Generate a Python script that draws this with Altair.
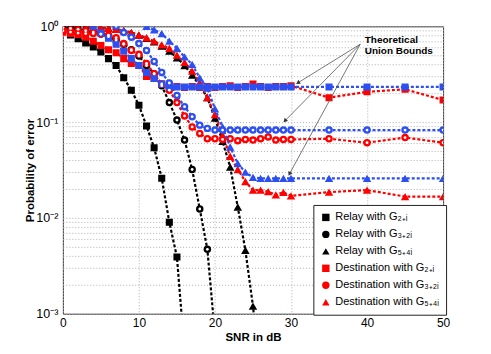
import math
import altair as alt
import pandas as pd

# ---------------- data ----------------
dest_snr = list(range(0, 31)) + [35, 40, 45, 50]

relay_g2_snr = list(range(0, 17))
relay_g2 = [0.93, 0.81, 0.74, 0.67, 0.61, 0.54, 0.46, 0.39, 0.29, 0.215, 0.15,
            0.091, 0.054, 0.026, 0.009, 0.0039, 0.0004]

relay_g3_snr = list(range(0, 21))
relay_g3 = [0.97, 0.95, 0.93, 0.90, 0.87, 0.83, 0.78, 0.72, 0.65, 0.57, 0.49,
            0.39, 0.32, 0.24, 0.16, 0.105, 0.065, 0.032, 0.0124, 0.0047, 0.0006]

relay_g5_snr = list(range(0, 27))
relay_g5 = [0.99, 0.99, 0.98, 0.98, 0.97, 0.96, 0.95, 0.93, 0.90, 0.86, 0.81,
            0.75, 0.69, 0.62, 0.55, 0.47, 0.39, 0.31, 0.24, 0.18, 0.11,
            0.063, 0.034, 0.013, 0.0046, 0.0012, 0.0002]

dest_g2 = [0.87, 0.84, 0.82, 0.77, 0.70, 0.63, 0.57, 0.53, 0.46, 0.41, 0.39,
           0.30, 0.285, 0.25, 0.235, 0.235, 0.23, 0.235, 0.23, 0.235, 0.23,
           0.235, 0.24, 0.23, 0.235, 0.25, 0.235, 0.23, 0.235, 0.235, 0.24,
           0.18, 0.207, 0.22, 0.17]
dest_g3 = [0.90, 0.87, 0.85, 0.84, 0.84, 0.83, 0.81, 0.76, 0.66, 0.56, 0.51,
           0.41, 0.32, 0.25, 0.215, 0.16, 0.116, 0.089, 0.076, 0.067, 0.067,
           0.066, 0.067, 0.064, 0.066, 0.065, 0.067, 0.070, 0.065, 0.066, 0.066,
           0.067, 0.061, 0.069, 0.061]
dest_g5 = [0.99, 0.98, 0.98, 0.97, 0.97, 0.96, 0.95, 0.93, 0.90, 0.86, 0.81,
           0.76, 0.70, 0.64, 0.59, 0.50, 0.42, 0.34, 0.26, 0.18, 0.12,
           0.073, 0.044, 0.032, 0.024, 0.0195, 0.0195, 0.0188, 0.0174, 0.0185, 0.017,
           0.0186, 0.0195, 0.0167, 0.0167]

bound_g2_snr = list(range(4, 31)) + [35, 40, 45, 50]
bound_g2 = [1.0, 0.85, 0.75, 0.65, 0.55, 0.46, 0.39, 0.33, 0.285, 0.25] + [0.233] * 21
bound_g3_snr = list(range(7, 31)) + [35, 40, 45, 50]
bound_g3 = [1.0, 0.86, 0.77, 0.66, 0.56, 0.43, 0.33, 0.256, 0.19, 0.145, 0.114,
            0.093, 0.086] + [0.0826] * 15
bound_g5_snr = list(range(11, 31)) + [35, 40, 45, 50]
bound_g5 = [1.0, 0.92, 0.84, 0.70, 0.59, 0.48, 0.40, 0.29, 0.226, 0.138, 0.089,
            0.055, 0.037, 0.030, 0.0265] + [0.0259] * 9

legend_names = ["Relay with G₂₊ᵢ", "Relay with G₃₊₂ᵢ", "Relay with G₅₊₄ᵢ",
                "Destination with G₂₊ᵢ", "Destination with G₃₊₂ᵢ", "Destination with G₅₊₄ᵢ"]
legend_colors = ["#000000", "#000000", "#000000", "#ff0000", "#ff0000", "#ff0000"]
legend_shapes = ["square", "circle", "triangle-up", "square", "circle", "triangle-up"]

annot_text = "Theoretical\nUnion Bounds"
annot_x, annot_y = 39.7, 0.67
arrow_start = (39.1, 0.65)
arrow_ends_x = [30.9, 29.2, 29.8]
arrow_ends_y = [0.257, 0.103, 0.0288]

# ---------------- frames ----------------
sizes = {"square": 50, "circle": 56, "triangle-up": 72}
rows = []
series = [(relay_g2_snr, relay_g2), (relay_g3_snr, relay_g3), (relay_g5_snr, relay_g5),
          (dest_snr, dest_g2), (dest_snr, dest_g3), (dest_snr, dest_g5)]
for i, (xs, ys) in enumerate(series):
    for x, y in zip(xs, ys):
        rows.append(dict(series=legend_names[i], snr=x, p=y, col=legend_colors[i],
                         shape=legend_shapes[i], msize=sizes[legend_shapes[i]], order=i))
df = pd.DataFrame(rows)

brows = []
for name, shp, xs, ys in [("b2", "square", bound_g2_snr, bound_g2),
                          ("b3", "circle", bound_g3_snr, bound_g3),
                          ("b5", "triangle-up", bound_g5_snr, bound_g5)]:
    for x, y in zip(xs, ys):
        brows.append(dict(series=name, snr=x, p=y, shape=shp, msize=sizes[shp]))
bdf = pd.DataFrame(brows)

# arrows
PXX, PXY = 7.62, 96.0
arows = []
for ex, ey in zip(arrow_ends_x, arrow_ends_y):
    dx = (ex - arrow_start[0]) * PXX
    dy = -(math.log10(ey) - math.log10(arrow_start[1])) * PXY
    ang = math.degrees(math.atan2(dx, -dy)) % 360
    arows.append(dict(x1=arrow_start[0], y1=arrow_start[1], x2=ex, y2=ey, ang=ang))
adf = pd.DataFrame(arows)

# ---------------- scales / axes ----------------
FONT = "Liberation Sans"
ymin, ymax = 0.001, 1.0
yvals = []
for e in [-3, -2, -1]:
    for m in range(1, 10):
        yvals.append(round(m * 10 ** e, 6))
yvals.append(1.0)
label_expr = ("datum.value >= 0.99 ? '10⁰' : (datum.value > 0.099 && datum.value < 0.101) ? '10⁻¹' : "
              "(datum.value > 0.0099 && datum.value < 0.0101) ? '10⁻²' : "
              "(datum.value > 0.00099 && datum.value < 0.00101) ? '10⁻³' : ''")

xscale = alt.Scale(domain=[0, 50], nice=False)
yscale = alt.Scale(type="log", domain=[ymin, ymax], nice=False)

xaxis = alt.Axis(values=[0, 10, 20, 30, 40, 50], grid=True, gridDash=[1, 2],
                 gridColor="#b0b0b0", ticks=False, domain=False, labelFont=FONT,
                 labelFontSize=12, labelColor="#000", labelPadding=4, labelFlush=False,
                 title="SNR in dB", titleFont=FONT, titleFontSize=11.5,
                 titleFontWeight="bold", titleColor="#000", titlePadding=3)
yaxis = alt.Axis(values=yvals, labelExpr=label_expr, grid=True, gridDash=[1, 2],
                 gridColor="#b0b0b0", ticks=False, domain=False, labelFont=FONT,
                 labelFontSize=12.5, labelColor="#000", labelPadding=5, labelOverlap=False,
                 labelFlush=False, title="Probability of error", titleFont=FONT,
                 titleFontSize=11.5, titleFontWeight="bold", titleColor="#000",
                 titlePadding=0)

X = alt.X("snr:Q", scale=xscale, axis=xaxis)
Y = alt.Y("p:Q", scale=yscale, axis=yaxis)
Xn = alt.X("snr:Q", scale=xscale)
Yn = alt.Y("p:Q", scale=yscale)

DASH = [3, 2]

lines = alt.Chart(df).mark_line(strokeDash=DASH, strokeWidth=2.2, clip=True).encode(
    x=X, y=Y, color=alt.Color("col:N", scale=None), detail="series:N")

points = alt.Chart(df).mark_point(filled=True, opacity=1, clip=True, strokeWidth=1).encode(
    x=Xn, y=Yn,
    color=alt.Color("series:N", scale=alt.Scale(domain=legend_names, range=legend_colors),
                    legend=alt.Legend(title=None)),
    shape=alt.Shape("series:N", scale=alt.Scale(domain=legend_names, range=legend_shapes)),
    size=alt.Size("msize:Q", scale=None))

BLUE = "#2b4ff0"
blines = alt.Chart(bdf).mark_line(strokeDash=DASH, strokeWidth=2.2, clip=True, color=BLUE).encode(
    x=Xn, y=Yn, detail="series:N")
bpoints = alt.Chart(bdf).mark_point(filled=True, opacity=1, clip=True, color=BLUE).encode(
    x=Xn, y=Yn, shape=alt.Shape("shape:N", scale=None), size=alt.Size("msize:Q", scale=None))

circ = pd.concat([df[df["shape"] == "circle"][["snr", "p"]], bdf[bdf["shape"] == "circle"][["snr", "p"]]])
dots = alt.Chart(circ).mark_point(filled=True, opacity=1, clip=True, color="white", size=8).encode(
    x=Xn, y=Yn)

arrow_lines = alt.Chart(adf).mark_rule(color="#555555", strokeWidth=0.8).encode(
    x=alt.X("x1:Q", scale=xscale), y=alt.Y("y1:Q", scale=yscale),
    x2="x2:Q", y2="y2:Q")
arrow_heads = alt.Chart(adf).mark_point(shape="triangle-up", filled=True, color="#333333",
                                        size=22, opacity=1).encode(
    x=alt.X("x2:Q", scale=xscale), y=alt.Y("y2:Q", scale=yscale),
    angle=alt.Angle("ang:Q", scale=None))

text_df = pd.DataFrame({"x": [annot_x], "y": [annot_y], "t": [annot_text]})
annot = alt.Chart(text_df).mark_text(align="left", baseline="alphabetic", font=FONT,
                                     fontSize=10, fontWeight="bold", color="#000",
                                     lineBreak="\n", lineHeight=11.5).encode(
    x=alt.X("x:Q", scale=xscale), y=alt.Y("y:Q", scale=yscale), text="t:N")

chart = alt.layer(lines, points, blines, bpoints, dots, arrow_lines, arrow_heads, annot).properties(
    width=381, height=288,
    autosize=alt.AutoSizeParams(type="none"),
    padding={"left": 55, "top": 18, "right": 40, "bottom": 32},
    background="white",
).configure_view(stroke="#333333", strokeWidth=1).configure_legend(
    orient="none", legendX=251, legendY=179, direction="vertical",
    strokeColor="#222222", fillColor="white", padding=7, labelFont=FONT,
    labelFontSize=11, labelColor="#000", rowPadding=5, symbolSize=55,
    symbolStrokeWidth=1, labelOffset=4, cornerRadius=0)

chart.save("out.html", embed_options={"renderer": "svg", "actions": False})
